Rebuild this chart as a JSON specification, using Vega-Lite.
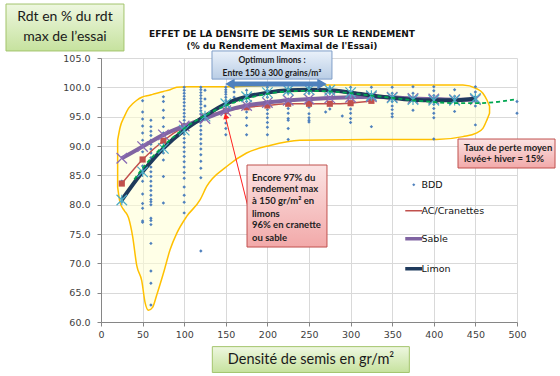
{
  "$schema": "https://vega.github.io/schema/vega-lite/v6.json",
  "width": 416,
  "height": 264,
  "autosize": {"type": "none"},
  "padding": {"left": 101, "top": 58, "right": 43, "bottom": 54},
  "background": "#ffffff",
  "config": {"view": {"stroke": null}},
  "title": {
    "text": ["EFFET DE LA DENSITE DE SEMIS SUR LE RENDEMENT", "(% du Rendement Maximal de l'Essai)"],
    "anchor": "middle",
    "frame": "group",
    "dx": -27,
    "dy": 47,
    "offset": 0,
    "font": "DejaVu Sans",
    "fontSize": 9,
    "fontWeight": "bold",
    "color": "#111111",
    "lineHeight": 12
  },
  "encoding": {
    "x": {
      "field": "x", "type": "quantitative",
      "scale": {"domain": [0, 500], "nice": false, "zero": false},
      "axis": {"values": [0, 50, 100, 150, 200, 250, 300, 350, 400, 450, 500], "title": null, "grid": true, "gridColor": "#d9d9d9", "domainColor": "#868686", "tickColor": "#868686", "tickSize": 4, "labelFont": "DejaVu Sans", "labelFontSize": 9.5, "labelColor": "#404040", "labelPadding": 3, "labelFlush": false}
    },
    "y": {
      "field": "y", "type": "quantitative",
      "scale": {"domain": [60, 105], "nice": false, "zero": false},
      "axis": {"values": [60, 65, 70, 75, 80, 85, 90, 95, 100, 105], "format": ".1f", "title": null, "grid": true, "gridColor": "#d9d9d9", "domainColor": "#868686", "tickColor": "#868686", "tickSize": 4, "labelFont": "DejaVu Sans", "labelFontSize": 9.5, "labelColor": "#404040", "labelPadding": 7}
    }
  },
  "layer": [
    {
      "data": {"values": [
        {"x": 20, "y": 91.0, "y2": 83.0}, {"x": 23, "y": 93.2, "y2": 80.3}, {"x": 28, "y": 95.0, "y2": 79.0},
        {"x": 33, "y": 96.4, "y2": 77.8}, {"x": 38, "y": 97.2, "y2": 74.6}, {"x": 43, "y": 97.8, "y2": 69.6},
        {"x": 49, "y": 98.3, "y2": 67.0}, {"x": 53, "y": 98.5, "y2": 63.3}, {"x": 57, "y": 98.6, "y2": 62.0},
        {"x": 62, "y": 98.8, "y2": 62.5}, {"x": 67, "y": 99.0, "y2": 64.6}, {"x": 75, "y": 99.3, "y2": 68.3},
        {"x": 83, "y": 99.6, "y2": 72.3}, {"x": 91, "y": 100.0, "y2": 75.1}, {"x": 103, "y": 100.1, "y2": 78.0},
        {"x": 119, "y": 100.1, "y2": 80.8}, {"x": 127, "y": 100.1, "y2": 83.1}, {"x": 151, "y": 100.1, "y2": 86.5},
        {"x": 175, "y": 100.2, "y2": 88.8}, {"x": 203, "y": 100.3, "y2": 90.1}, {"x": 239, "y": 100.4, "y2": 91.0},
        {"x": 323, "y": 100.4, "y2": 91.1}, {"x": 403, "y": 100.4, "y2": 91.1}, {"x": 435, "y": 100.4, "y2": 91.6},
        {"x": 451, "y": 99.8, "y2": 92.2}, {"x": 459, "y": 99.0, "y2": 93.0}, {"x": 464, "y": 97.8, "y2": 94.5},
        {"x": 467, "y": 96.8, "y2": 95.6}
      ]},
      "mark": {"type": "area", "interpolate": "monotone", "fill": "#ffffd4", "fillOpacity": 0.55, "stroke": "#ffc000", "strokeWidth": 1.5},
      "encoding": {"y2": {"field": "y2"}}
    },
    {
      "data": {"values": [
        {"x": 25, "y": 80.5}, {"x": 25, "y": 84.0},
        {"x": 50, "y": 97.7}, {"x": 50, "y": 95.8}, {"x": 50, "y": 94.6}, {"x": 50, "y": 93.4}, {"x": 50, "y": 92.2}, {"x": 50, "y": 91.0}, {"x": 50, "y": 90.2}, {"x": 50, "y": 89.0}, {"x": 50, "y": 87.8}, {"x": 50, "y": 86.6}, {"x": 50, "y": 85.4}, {"x": 50, "y": 84.0}, {"x": 50, "y": 81.8}, {"x": 50, "y": 80.2}, {"x": 50, "y": 79.4}, {"x": 50, "y": 77.2}, {"x": 50, "y": 77.0},
        {"x": 60, "y": 94.4}, {"x": 60, "y": 93.3}, {"x": 60, "y": 92.5}, {"x": 60, "y": 91.8}, {"x": 60, "y": 91.0}, {"x": 60, "y": 90.3}, {"x": 60, "y": 89.5}, {"x": 60, "y": 88.8}, {"x": 60, "y": 88.0}, {"x": 60, "y": 87.2}, {"x": 60, "y": 86.4}, {"x": 60, "y": 85.6}, {"x": 60, "y": 84.8}, {"x": 60, "y": 84.0}, {"x": 60, "y": 83.2}, {"x": 60, "y": 82.4}, {"x": 60, "y": 81.6}, {"x": 60, "y": 80.9}, {"x": 60, "y": 80.5}, {"x": 60, "y": 80.0}, {"x": 60, "y": 77.7}, {"x": 60, "y": 77.3}, {"x": 60, "y": 76.6}, {"x": 60, "y": 73.4}, {"x": 60, "y": 68.7}, {"x": 60, "y": 66.6}, {"x": 60, "y": 62.9},
        {"x": 75, "y": 98.4}, {"x": 75, "y": 97.6}, {"x": 75, "y": 96.1}, {"x": 75, "y": 94.8}, {"x": 75, "y": 93.3}, {"x": 75, "y": 92.2}, {"x": 75, "y": 91.0}, {"x": 75, "y": 89.7}, {"x": 75, "y": 88.8}, {"x": 75, "y": 87.6}, {"x": 75, "y": 84.8}, {"x": 75, "y": 80.3},
        {"x": 100, "y": 100.0}, {"x": 100, "y": 99.5}, {"x": 100, "y": 99.0}, {"x": 100, "y": 98.5}, {"x": 100, "y": 98.0}, {"x": 100, "y": 97.4}, {"x": 100, "y": 96.8}, {"x": 100, "y": 96.2}, {"x": 100, "y": 95.6}, {"x": 100, "y": 95.0}, {"x": 100, "y": 94.4}, {"x": 100, "y": 93.8}, {"x": 100, "y": 93.2}, {"x": 100, "y": 92.6}, {"x": 100, "y": 92.0}, {"x": 100, "y": 91.3}, {"x": 100, "y": 90.6}, {"x": 100, "y": 89.8}, {"x": 100, "y": 89.0}, {"x": 100, "y": 88.2}, {"x": 100, "y": 87.3}, {"x": 100, "y": 86.4}, {"x": 100, "y": 85.5}, {"x": 100, "y": 84.5}, {"x": 100, "y": 83.0}, {"x": 100, "y": 81.6}, {"x": 100, "y": 80.4}, {"x": 100, "y": 78.6},
        {"x": 120, "y": 100.0}, {"x": 120, "y": 99.6}, {"x": 120, "y": 99.1}, {"x": 120, "y": 98.6}, {"x": 120, "y": 98.1}, {"x": 120, "y": 97.6}, {"x": 120, "y": 97.1}, {"x": 120, "y": 96.5}, {"x": 120, "y": 96.0}, {"x": 120, "y": 95.4}, {"x": 120, "y": 94.8}, {"x": 120, "y": 94.1}, {"x": 120, "y": 93.4}, {"x": 120, "y": 92.7}, {"x": 120, "y": 92.0}, {"x": 120, "y": 91.2}, {"x": 120, "y": 90.4}, {"x": 120, "y": 89.5}, {"x": 120, "y": 88.5}, {"x": 120, "y": 87.4}, {"x": 120, "y": 86.2}, {"x": 120, "y": 84.6}, {"x": 120, "y": 72.1},
        {"x": 125, "y": 99.5}, {"x": 125, "y": 98.0}, {"x": 125, "y": 96.8},
        {"x": 150, "y": 100.0}, {"x": 150, "y": 99.6}, {"x": 150, "y": 99.2}, {"x": 150, "y": 98.8}, {"x": 150, "y": 98.3}, {"x": 150, "y": 97.8}, {"x": 150, "y": 96.7}, {"x": 150, "y": 96.1}, {"x": 150, "y": 95.5}, {"x": 150, "y": 94.8}, {"x": 150, "y": 93.9}, {"x": 150, "y": 93.0}, {"x": 150, "y": 91.9},
        {"x": 160, "y": 99.2}, {"x": 160, "y": 98.3}, {"x": 160, "y": 97.5},
        {"x": 175, "y": 99.5}, {"x": 175, "y": 98.7}, {"x": 175, "y": 97.6}, {"x": 175, "y": 95.8}, {"x": 175, "y": 94.8}, {"x": 175, "y": 93.5}, {"x": 175, "y": 91.9},
        {"x": 200, "y": 100.0}, {"x": 200, "y": 99.5}, {"x": 200, "y": 98.9}, {"x": 200, "y": 98.3}, {"x": 200, "y": 97.6}, {"x": 200, "y": 96.9}, {"x": 200, "y": 96.2}, {"x": 200, "y": 95.5}, {"x": 200, "y": 94.8}, {"x": 200, "y": 94.0}, {"x": 200, "y": 93.2}, {"x": 200, "y": 91.9},
        {"x": 225, "y": 99.8}, {"x": 225, "y": 99.0}, {"x": 225, "y": 98.0}, {"x": 225, "y": 96.4}, {"x": 225, "y": 95.6}, {"x": 225, "y": 94.7}, {"x": 225, "y": 94.4}, {"x": 225, "y": 93.0}, {"x": 225, "y": 91.1},
        {"x": 250, "y": 100.0}, {"x": 250, "y": 99.0}, {"x": 250, "y": 98.0}, {"x": 250, "y": 96.6}, {"x": 250, "y": 95.5}, {"x": 250, "y": 94.8}, {"x": 250, "y": 94.4}, {"x": 250, "y": 94.1},
        {"x": 270, "y": 95.8},
        {"x": 275, "y": 100.0}, {"x": 275, "y": 99.0}, {"x": 275, "y": 98.2}, {"x": 275, "y": 96.3},
        {"x": 290, "y": 95.1},
        {"x": 300, "y": 100.0}, {"x": 300, "y": 99.0}, {"x": 300, "y": 98.2}, {"x": 300, "y": 96.3}, {"x": 300, "y": 95.6}, {"x": 300, "y": 94.7}, {"x": 300, "y": 94.0},
        {"x": 325, "y": 100.0}, {"x": 325, "y": 98.8}, {"x": 325, "y": 93.3},
        {"x": 350, "y": 100.0}, {"x": 350, "y": 99.0}, {"x": 350, "y": 98.4}, {"x": 350, "y": 97.6}, {"x": 350, "y": 96.8}, {"x": 350, "y": 96.2}, {"x": 350, "y": 95.5}, {"x": 350, "y": 95.0},
        {"x": 375, "y": 100.1}, {"x": 375, "y": 99.0}, {"x": 375, "y": 96.1},
        {"x": 400, "y": 100.1}, {"x": 400, "y": 99.4}, {"x": 400, "y": 98.6}, {"x": 400, "y": 97.8}, {"x": 400, "y": 97.1}, {"x": 400, "y": 96.4}, {"x": 400, "y": 95.6}, {"x": 400, "y": 94.8}, {"x": 400, "y": 91.2},
        {"x": 425, "y": 99.6}, {"x": 425, "y": 98.5}, {"x": 425, "y": 95.9},
        {"x": 450, "y": 100.1}, {"x": 450, "y": 99.2}, {"x": 450, "y": 98.4}, {"x": 450, "y": 97.6}, {"x": 450, "y": 96.8}, {"x": 450, "y": 93.6},
        {"x": 500, "y": 97.6}, {"x": 500, "y": 95.6}
      ]},
      "mark": {"type": "point", "filled": true, "shape": "diamond", "size": 12, "opacity": 1},
      "encoding": {
        "color": {
          "datum": "BDD", "type": "nominal",
          "scale": {"domain": ["BDD", "AC/Cranettes", "Sable", "Limon"], "range": ["#4f81bd", "#c0504d", "#8064a2", "#1f3a5c"]},
          "legend": {
            "orient": "none", "legendX": 308, "legendY": 122, "title": null,
            "labelFont": "DejaVu Sans", "labelFontSize": 9.5, "labelColor": "#111111", "labelOffset": 3,
            "symbolType": "stroke", "symbolSize": 289, "symbolStrokeWidth": 3, "rowPadding": 15,
            "encode": {"symbols": {"update": {
              "shape": {"signal": "datum.value === 'BDD' ? 'diamond' : 'stroke'"},
              "size": {"signal": "datum.value === 'BDD' ? 10 : 289"},
              "strokeWidth": {"signal": "datum.value === 'BDD' ? 0 : datum.value === 'AC/Cranettes' ? 1.5 : 3.5"},
              "fill": {"signal": "datum.value === 'BDD' ? '#4f81bd' : 'transparent'"},
              "stroke": {"signal": "scale('color', datum.value)"},
              "opacity": {"value": 1}
            }}}
          }
        }
      }
    },
    {
      "data": {"values": [
        {"series": "AC/Cranettes", "x": 25, "y": 83.6}, {"series": "AC/Cranettes", "x": 50, "y": 87.7}, {"series": "AC/Cranettes", "x": 75, "y": 90.9}, {"series": "AC/Cranettes", "x": 100, "y": 93.3}, {"series": "AC/Cranettes", "x": 125, "y": 95.0}, {"series": "AC/Cranettes", "x": 150, "y": 96.0}, {"series": "AC/Cranettes", "x": 175, "y": 96.6}, {"series": "AC/Cranettes", "x": 200, "y": 96.9}, {"series": "AC/Cranettes", "x": 225, "y": 97.2}, {"series": "AC/Cranettes", "x": 250, "y": 97.2}, {"series": "AC/Cranettes", "x": 275, "y": 97.2}, {"series": "AC/Cranettes", "x": 300, "y": 97.3}, {"series": "AC/Cranettes", "x": 325, "y": 97.7},
        {"series": "Sable", "x": 25, "y": 87.9}, {"series": "Sable", "x": 50, "y": 89.9}, {"series": "Sable", "x": 75, "y": 91.9}, {"series": "Sable", "x": 100, "y": 93.4}, {"series": "Sable", "x": 125, "y": 94.7}, {"series": "Sable", "x": 150, "y": 96.0}, {"series": "Sable", "x": 175, "y": 96.9}, {"series": "Sable", "x": 200, "y": 97.4}, {"series": "Sable", "x": 225, "y": 97.8}, {"series": "Sable", "x": 250, "y": 98.0}, {"series": "Sable", "x": 275, "y": 98.2}, {"series": "Sable", "x": 300, "y": 98.3}, {"series": "Sable", "x": 325, "y": 98.4}, {"series": "Sable", "x": 350, "y": 98.3}, {"series": "Sable", "x": 375, "y": 98.1}, {"series": "Sable", "x": 400, "y": 98.0}, {"series": "Sable", "x": 425, "y": 97.9}, {"series": "Sable", "x": 450, "y": 97.9},
        {"series": "Limon", "x": 25, "y": 80.8}, {"series": "Limon", "x": 50, "y": 85.6}, {"series": "Limon", "x": 75, "y": 89.6}, {"series": "Limon", "x": 100, "y": 92.7}, {"series": "Limon", "x": 125, "y": 95.1}, {"series": "Limon", "x": 150, "y": 97.2}, {"series": "Limon", "x": 175, "y": 98.4}, {"series": "Limon", "x": 200, "y": 99.1}, {"series": "Limon", "x": 225, "y": 99.5}, {"series": "Limon", "x": 250, "y": 99.6}, {"series": "Limon", "x": 275, "y": 99.5}, {"series": "Limon", "x": 300, "y": 99.1}, {"series": "Limon", "x": 325, "y": 98.6}, {"series": "Limon", "x": 350, "y": 98.2}, {"series": "Limon", "x": 375, "y": 97.9}, {"series": "Limon", "x": 400, "y": 97.8}, {"series": "Limon", "x": 425, "y": 97.8}, {"series": "Limon", "x": 450, "y": 98.1}
      ]},
      "layer": [
        {
          "transform": [{"filter": "datum.series === 'AC/Cranettes'"}],
          "mark": {"type": "line", "interpolate": "monotone", "strokeWidth": 1.5},
          "encoding": {"color": {"field": "series", "type": "nominal", "scale": {"domain": ["BDD", "AC/Cranettes", "Sable", "Limon"], "range": ["#4f81bd", "#c0504d", "#8064a2", "#1f3a5c"]},
            "legend": {
              "orient": "none", "legendX": 308, "legendY": 122, "title": null,
              "labelFont": "DejaVu Sans", "labelFontSize": 9.5, "labelColor": "#111111", "labelOffset": 3,
              "symbolType": "stroke", "symbolSize": 289, "symbolStrokeWidth": 3, "rowPadding": 15,
              "encode": {"symbols": {"update": {
                "shape": {"signal": "datum.value === 'BDD' ? 'diamond' : 'stroke'"},
                "size": {"signal": "datum.value === 'BDD' ? 10 : 289"},
                "strokeWidth": {"signal": "datum.value === 'BDD' ? 0 : datum.value === 'AC/Cranettes' ? 1.5 : 3.5"},
                "fill": {"signal": "datum.value === 'BDD' ? '#4f81bd' : 'transparent'"},
                "stroke": {"signal": "scale('color', datum.value)"},
                "opacity": {"value": 1}
              }}}
            }}}
        },
        {
          "transform": [{"filter": "datum.series === 'AC/Cranettes'"}],
          "mark": {"type": "point", "shape": "square", "filled": true, "size": 38, "color": "#c0504d", "opacity": 1}
        },
        {
          "transform": [{"filter": "datum.series === 'Sable'"}],
          "mark": {"type": "line", "interpolate": "monotone", "strokeWidth": 4},
          "encoding": {"color": {"field": "series", "type": "nominal", "scale": {"domain": ["BDD", "AC/Cranettes", "Sable", "Limon"], "range": ["#4f81bd", "#c0504d", "#8064a2", "#1f3a5c"]}, "legend": null}}
        },
        {
          "transform": [{"filter": "datum.series === 'Sable'"}],
          "mark": {"type": "point", "shape": "M-1,-1L1,1M1,-1L-1,1", "filled": false, "size": 110, "strokeWidth": 1.3, "color": "#8a6bb5", "opacity": 1}
        },
        {
          "transform": [{"filter": "datum.series === 'Limon'"}],
          "mark": {"type": "line", "interpolate": "monotone", "strokeWidth": 4},
          "encoding": {"color": {"field": "series", "type": "nominal", "scale": {"domain": ["BDD", "AC/Cranettes", "Sable", "Limon"], "range": ["#4f81bd", "#c0504d", "#8064a2", "#1f3a5c"]}, "legend": null}}
        },
        {
          "transform": [{"filter": "datum.series === 'Limon'"}],
          "mark": {"type": "point", "shape": "M-1,-1L1,1M1,-1L-1,1M0,-1L0,1", "filled": false, "size": 110, "strokeWidth": 1.2, "color": "#4bacc6", "opacity": 1}
        }
      ]
    },
    {
      "data": {"values": [
        {"x": 40, "y": 84.3}, {"x": 50, "y": 86.2}, {"x": 75, "y": 90.0}, {"x": 100, "y": 93.0}, {"x": 125, "y": 95.2}, {"x": 150, "y": 96.9}, {"x": 175, "y": 98.1}, {"x": 200, "y": 98.9}, {"x": 225, "y": 99.3}, {"x": 250, "y": 99.4}, {"x": 275, "y": 99.3}, {"x": 300, "y": 99.0}, {"x": 325, "y": 98.6}, {"x": 350, "y": 98.2}, {"x": 375, "y": 97.8}, {"x": 400, "y": 97.5}, {"x": 425, "y": 97.3}, {"x": 450, "y": 97.3}, {"x": 475, "y": 97.5}, {"x": 500, "y": 98.0}
      ]},
      "mark": {"type": "line", "interpolate": "monotone", "color": "#00a651", "strokeWidth": 1.8, "strokeDash": [4, 3]}
    },
    {
      "data": {"values": [{"x": 176.7, "y": 79.6, "x2": 149.5, "y2": 95.0}]},
      "mark": {"type": "rule", "color": "#ff2020", "strokeWidth": 1},
      "encoding": {"x2": {"field": "x2"}, "y2": {"field": "y2"}}
    },
    {
      "data": {"values": [{"x": 149.9, "y": 95.1}]},
      "mark": {"type": "point", "shape": "triangle-up", "filled": true, "size": 40, "angle": -14, "color": "#ff2020", "opacity": 1}
    },
    {
      "data": {"values": [{"x": 155, "x2": 265.6, "y": 100.57}]},
      "mark": {"type": "rule", "color": "#4f81bd", "strokeWidth": 5},
      "encoding": {"x2": {"field": "x2"}}
    },
    {
      "data": {"values": [{"x": 155, "y": 100.57, "end": "left"}, {"x": 265.6, "y": 100.57, "end": "right"}]},
      "mark": {"type": "point", "filled": true, "size": 120, "color": "#4f81bd", "opacity": 1},
      "encoding": {"shape": {"field": "end", "type": "nominal", "scale": {"domain": ["left", "right"], "range": ["triangle-left", "triangle-right"]}, "legend": null}}
    },
    {
      "data": {"values": [{"x": -114.2, "x2": 27.6, "y": 114.2, "y2": 106.2}, {"x": 133.8, "x2": 370.6, "y": 55.8, "y2": 51.4}]},
      "mark": {"type": "rect", "stroke": "#a3c46c", "strokeWidth": 1, "fill": {"gradient": "linear", "x1": 0, "y1": 0, "x2": 0, "y2": 1, "stops": [{"offset": 0, "color": "#eef7e0"}, {"offset": 1, "color": "#c6e29e"}]}},
      "encoding": {"x2": {"field": "x2"}, "y2": {"field": "y2"}}
    },
    {
      "data": {"values": [{"x": 133.4, "x2": 277.6, "y": 106.2, "y2": 101.4}]},
      "mark": {"type": "rect", "stroke": "#7f9ec8", "strokeWidth": 1, "fill": {"gradient": "linear", "x1": 0, "y1": 0, "x2": 0, "y2": 1, "stops": [{"offset": 0, "color": "#eaf1fa"}, {"offset": 1, "color": "#b9cde5"}]}},
      "encoding": {"x2": {"field": "x2"}, "y2": {"field": "y2"}}
    },
    {
      "data": {"values": [{"x": 175.5, "x2": 271.6, "y": 86.76, "y2": 72.78}, {"x": 429.1, "x2": 545.7, "y": 91.19, "y2": 86.25}]},
      "mark": {"type": "rect", "stroke": "#c0504d", "strokeWidth": 1, "fill": {"gradient": "linear", "x1": 0, "y1": 0, "x2": 0, "y2": 1, "stops": [{"offset": 0, "color": "#fbe3e3"}, {"offset": 1, "color": "#f2a9a9"}]}},
      "encoding": {"x2": {"field": "x2"}, "y2": {"field": "y2"}}
    },
    {
      "data": {"values": [
        {"x": -43.3, "y": 112.0, "t": "Rdt en % du rdt"},
        {"x": -43.3, "y": 108.6, "t": "max de l’essai"}
      ]},
      "mark": {"type": "text", "align": "center", "baseline": "middle", "font": "Lato", "fontSize": 14, "color": "#1a1a1a"},
      "encoding": {"text": {"field": "t"}}
    },
    {
      "data": {"values": [{"x": 252.4, "y": 53.5, "t": "Densité de semis en gr/m²"}]},
      "mark": {"type": "text", "align": "center", "baseline": "middle", "font": "Lato", "fontSize": 14.5, "color": "#1a1a1a"},
      "encoding": {"text": {"field": "t"}}
    },
    {
      "data": {"values": [
        {"x": 205.5, "y": 104.66, "t": "Optimum limons :"},
        {"x": 205.5, "y": 102.4, "t": "Entre 150 à 300 grains/m²"}
      ]},
      "mark": {"type": "text", "align": "center", "baseline": "middle", "font": "Lato", "fontSize": 8.5, "fontWeight": "bold", "color": "#1a1a1a"},
      "encoding": {"text": {"field": "t"}}
    },
    {
      "data": {"values": [
        {"x": 181.5, "y": 84.63, "t": "Encore 97% du"},
        {"x": 181.5, "y": 82.59, "t": "rendement max"},
        {"x": 181.5, "y": 80.54, "t": "à 150 gr/m² en"},
        {"x": 181.5, "y": 78.49, "t": "limons"},
        {"x": 181.5, "y": 76.45, "t": "96% en cranette"},
        {"x": 181.5, "y": 74.40, "t": "ou sable"},
        {"x": 436.3, "y": 89.6, "t": "Taux de perte moyen"},
        {"x": 436.3, "y": 87.73, "t": "levée+ hiver = 15%"}
      ]},
      "mark": {"type": "text", "align": "left", "baseline": "middle", "font": "Lato", "fontSize": 9.5, "fontWeight": "bold", "color": "#222222"},
      "encoding": {"text": {"field": "t"}}
    }
  ]
}
